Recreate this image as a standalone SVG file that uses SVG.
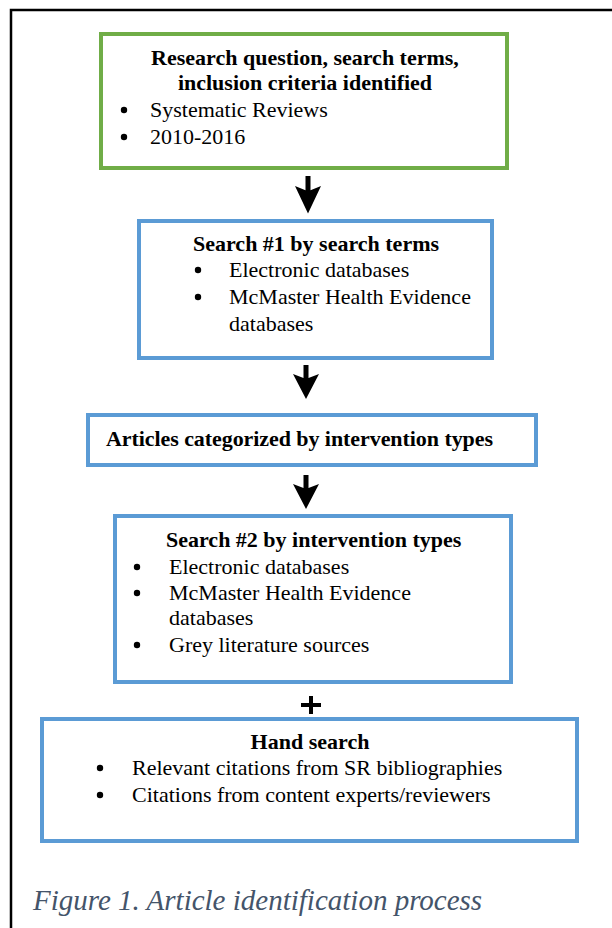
<svg xmlns="http://www.w3.org/2000/svg" width="612" height="928" viewBox="0 0 612 928">
<style>
.box{fill:#ffffff;stroke-width:4}
.green{stroke:#70AD47}
.blue{stroke:#5B9BD5}
.dot{fill:#000000}
text{font-family:"Liberation Serif","Times New Roman",serif;font-size:22px;fill:#000000}
.b{font-weight:bold}
.mid{text-anchor:middle}
.cap{font-style:italic;font-size:29px;fill:#44546A}
</style>
<defs>
<path id="arrow" d="M-2.5,0 h5 v13 l10.5,-4 l-13,25 l-13,-25 l10.5,4 z" fill="#000"/>
</defs>
<rect x="0" y="0" width="612" height="928" fill="#ffffff"/>
<g id="frame" stroke="#000" stroke-width="2.5" fill="none">
<path d="M11,928 L11,10 L612,10"/>
</g>
<g id="connectors">
<use href="#arrow" transform="translate(308,176) scale(1,1.1)"/>
<use href="#arrow" transform="translate(306,365)"/>
<use href="#arrow" transform="translate(306,475)"/>
<path d="M301,703 h20 v4 h-20 z M309,696 h4 v18 h-4 z" fill="#000"/>
</g>
<g id="node-research">
<rect class="box green" x="101" y="34" width="406" height="134"/>
<text class="b mid" x="305" y="65">Research question, search terms,</text>
<text class="b mid" x="305" y="90">inclusion criteria identified</text>
<circle class="dot" cx="124" cy="110" r="3.2"/>
<text x="150" y="117">Systematic Reviews</text>
<circle class="dot" cx="124" cy="137" r="3.2"/>
<text x="150" y="144">2010-2016</text>
</g>
<g id="node-search1">
<rect class="box blue" x="139" y="221" width="353" height="137"/>
<text class="b" x="193" y="251">Search #1 by search terms</text>
<circle class="dot" cx="198" cy="270" r="3.2"/>
<text x="229" y="277">Electronic databases</text>
<circle class="dot" cx="198" cy="297" r="3.2"/>
<text x="229" y="304">McMaster Health Evidence</text>
<text x="229" y="331">databases</text>
</g>
<g id="node-categorized">
<rect class="box blue" x="88" y="415" width="448" height="50"/>
<text class="b" x="106" y="446" textLength="387" lengthAdjust="spacing">Articles categorized by intervention types</text>
</g>
<g id="node-search2">
<rect class="box blue" x="115" y="516" width="396" height="166"/>
<text class="b" x="166" y="547">Search #2 by intervention types</text>
<circle class="dot" cx="137" cy="567" r="3.2"/>
<text x="169" y="574">Electronic databases</text>
<circle class="dot" cx="137" cy="593" r="3.2"/>
<text x="169" y="600">McMaster Health Evidence</text>
<text x="169" y="625">databases</text>
<circle class="dot" cx="137" cy="645" r="3.2"/>
<text x="169" y="652">Grey literature sources</text>
</g>
<g id="node-hand">
<rect class="box blue" x="42" y="719" width="535" height="122"/>
<text class="b mid" x="310" y="749">Hand search</text>
<circle class="dot" cx="100" cy="768" r="3.2"/>
<text x="132" y="775">Relevant citations from SR bibliographies</text>
<circle class="dot" cx="100" cy="795" r="3.2"/>
<text x="132" y="802">Citations from content experts/reviewers</text>
</g>
<g id="caption">
<text class="cap" x="33" y="910">Figure 1. Article identification process</text>
</g>
</svg>
